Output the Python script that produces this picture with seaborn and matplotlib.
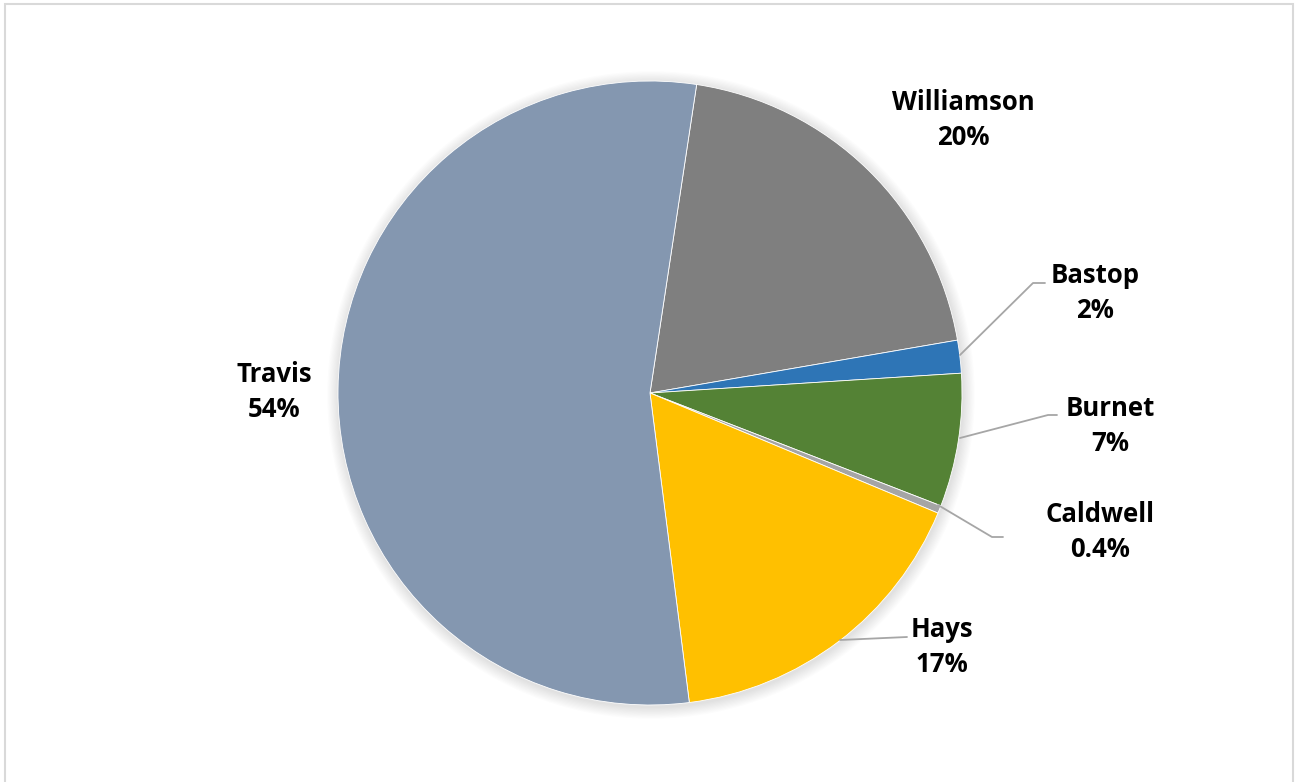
import matplotlib
matplotlib.use("Agg")
import matplotlib.pyplot as plt
import seaborn as sns
from matplotlib.patches import Circle, Rectangle

# County shares
counties = ["Williamson", "Bastop", "Burnet", "Caldwell", "Hays", "Travis"]
shares = [19.9, 1.7, 6.9, 0.4, 16.7, 54.4]
share_labels = ["20%", "2%", "7%", "0.4%", "17%", "54%"]
colors = ["#7F7F7F", "#2E75B6", "#548235", "#A5A5A5", "#FFC000", "#8497B0"]

sns.set_theme(style="white")
plt.rcParams["font.family"] = ["Open Sans", "DejaVu Sans"]

W, H = 1296, 782
fig = plt.figure(figsize=(W / 100, H / 100), dpi=100)
ax = fig.add_axes([0, 0, 1, 1])
ax.set_xlim(0, W)
ax.set_ylim(0, H)
ax.axis("off")

cx, cy, r = 650, H - 393, 312

# soft shadow around the pie
for i in range(10):
    ax.add_patch(Circle((cx + 1, cy - 2), r + 1 + i * 1.2, color="black",
                        alpha=0.01, lw=0, zorder=0))

ax.pie(shares, colors=colors, center=(cx, cy), radius=r, startangle=81.4,
       counterclock=False, wedgeprops=dict(edgecolor="white", linewidth=0.6))
ax.set_xlim(0, W)
ax.set_ylim(0, H)
ax.set_aspect("equal")

# label placement (pixel coords of text centres)
label_pos = {
    "Williamson": (963, 120),
    "Bastop": (1095, 293),
    "Burnet": (1110, 426),
    "Caldwell": (1100, 532),
    "Hays": (942, 647),
    "Travis": (274, 392),
}
for name, lab in zip(counties, share_labels):
    x, y = label_pos[name]
    ax.text(x, H - y, f"{name}\n{lab}", ha="center", va="center",
            fontsize=18.5, fontweight="bold", color="black", linespacing=1.38)

# leader lines
leaders = [
    [(960, 355), (1033, 283), (1045, 283)],
    [(960, 438), (1048, 415), (1057, 415)],
    [(938, 505), (992, 537), (1003, 537)],
    [(840, 640), (907, 637)],
]
for pts in leaders:
    xs = [p[0] for p in pts]
    ys = [H - p[1] for p in pts]
    ax.plot(xs, ys, color="#A6A6A6", lw=1.3, zorder=5)

# chart border
fig.patches.append(Rectangle((5 / W, -0.01), (1293 - 5) / W, 1.01 - 4 / H,
                             transform=fig.transFigure, fill=False,
                             edgecolor="#D9D9D9", lw=1.5))

fig.savefig("out.png", dpi=100)
